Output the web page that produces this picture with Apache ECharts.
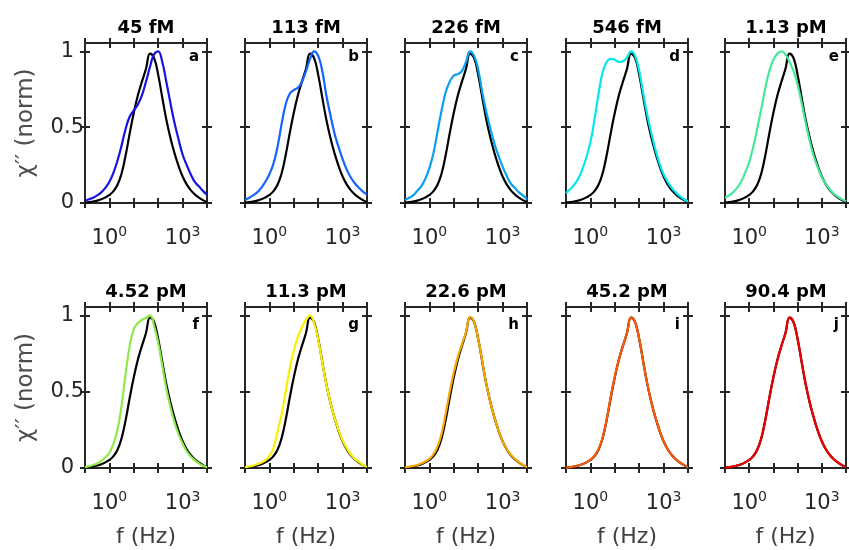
<!DOCTYPE html>
<html>
<head>
<meta charset="utf-8">
<script src="https://cdn.jsdelivr.net/npm/echarts@6.0.0/dist/echarts.min.js"></script>
<style>
  html, body { margin: 0; padding: 0; background: #fff; }
  #chart { width: 849px; height: 550px; }
</style>
</head>
<body>
<div id="chart"></div>
<script>
// frequency grid (Hz), 1/6 decade steps
const freq = [0.1, 0.147, 0.215, 0.316, 0.464, 0.681, 1, 1.47, 2.15, 3.16, 4.64, 6.81,
  10, 14.7, 21.5, 31.6, 46.4, 68.1, 100, 147, 215, 316, 464, 681,
  1000, 1470, 2150, 3160, 4640, 6810, 10000];

// reference curve (black), same in every panel
const refCurve = [0.003, 0.006, 0.01, 0.016, 0.025, 0.037, 0.053, 0.078, 0.12, 0.195, 0.315, 0.46,
  0.595, 0.71, 0.8, 0.885, 0.985, 0.955, 0.845, 0.695, 0.55, 0.43, 0.33, 0.245,
  0.175, 0.123, 0.085, 0.057, 0.036, 0.019, 0.005];

const curveA = [0.015, 0.025, 0.035, 0.05, 0.07, 0.1, 0.14, 0.2, 0.28, 0.38, 0.49, 0.57,
  0.61, 0.65, 0.71, 0.8, 0.9, 0.98, 1.0, 0.93, 0.8, 0.66, 0.53, 0.42,
  0.32, 0.25, 0.19, 0.14, 0.11, 0.08, 0.055];
const curveB = [0.02, 0.035, 0.05, 0.07, 0.1, 0.14, 0.19, 0.26, 0.37, 0.52, 0.65, 0.72,
  0.745, 0.76, 0.8, 0.87, 0.95, 1.0, 0.97, 0.87, 0.71, 0.58, 0.46, 0.37,
  0.29, 0.22, 0.17, 0.13, 0.1, 0.075, 0.055];
const curveC = [0.02, 0.035, 0.05, 0.08, 0.11, 0.16, 0.23, 0.33, 0.47, 0.61, 0.73, 0.8,
  0.84, 0.85, 0.87, 0.93, 1.0, 0.97, 0.88, 0.73, 0.6, 0.49, 0.39, 0.31,
  0.24, 0.18, 0.13, 0.1, 0.07, 0.05, 0.025];
const curveD = [0.065, 0.09, 0.12, 0.16, 0.22, 0.3, 0.4, 0.55, 0.72, 0.86, 0.93, 0.95,
  0.945, 0.93, 0.935, 0.96, 1.0, 0.97, 0.87, 0.72, 0.58, 0.46, 0.35, 0.26,
  0.19, 0.14, 0.1, 0.07, 0.045, 0.025, 0.01];
const curveE = [0.035, 0.05, 0.07, 0.1, 0.14, 0.2, 0.27, 0.37, 0.49, 0.62, 0.76, 0.87,
  0.945, 0.985, 1.0, 0.98, 0.93, 0.87, 0.78, 0.66, 0.53, 0.41, 0.31, 0.235,
  0.17, 0.125, 0.09, 0.06, 0.04, 0.025, 0.012];
const curveF = [0.005, 0.012, 0.02, 0.03, 0.045, 0.07, 0.1, 0.16, 0.25, 0.41, 0.62, 0.8,
  0.91, 0.95, 0.97, 0.985, 1.0, 0.93, 0.82, 0.67, 0.52, 0.4, 0.3, 0.22,
  0.16, 0.11, 0.075, 0.05, 0.03, 0.015, 0.005];
const curveG = [0.005, 0.01, 0.015, 0.025, 0.035, 0.05, 0.08, 0.13, 0.24, 0.35, 0.5, 0.65,
  0.77, 0.86, 0.92, 0.97, 1.0, 0.95, 0.84, 0.69, 0.55, 0.43, 0.33, 0.25,
  0.18, 0.13, 0.09, 0.06, 0.04, 0.02, 0.008];
const curveH = [0.004, 0.008, 0.013, 0.02, 0.03, 0.043, 0.06, 0.09, 0.14, 0.225, 0.355, 0.5,
  0.625, 0.73, 0.81, 0.89, 0.99, 0.955, 0.845, 0.7, 0.55, 0.43, 0.33, 0.245,
  0.175, 0.125, 0.088, 0.06, 0.037, 0.02, 0.006];
const curveI = [0.003, 0.006, 0.01, 0.016, 0.025, 0.037, 0.054, 0.08, 0.122, 0.198, 0.318, 0.465,
  0.6, 0.71, 0.8, 0.885, 0.985, 0.955, 0.845, 0.695, 0.55, 0.43, 0.33, 0.245,
  0.175, 0.123, 0.085, 0.057, 0.036, 0.019, 0.005];
const curveJ = [0.003, 0.006, 0.01, 0.016, 0.025, 0.037, 0.053, 0.078, 0.12, 0.195, 0.315, 0.46,
  0.595, 0.71, 0.8, 0.885, 0.985, 0.955, 0.845, 0.695, 0.55, 0.43, 0.33, 0.245,
  0.175, 0.123, 0.085, 0.057, 0.036, 0.019, 0.005];

const curves = [curveA, curveB, curveC, curveD, curveE, curveF, curveG, curveH, curveI, curveJ];
const titles = ['45 fM', '113 fM', '226 fM', '546 fM', '1.13 pM',
  '4.52 pM', '11.3 pM', '22.6 pM', '45.2 pM', '90.4 pM'];
const letters = ['a', 'b', 'c', 'd', 'e', 'f', 'g', 'h', 'i', 'j'];
const colors = ['#1414e6', '#1464ff', '#0aa0f0', '#00e8f0', '#46e89c',
  '#8eea4a', '#f8f000', '#f8a800', '#fa5a0a', '#f00000'];
const yTicks = [0, 0.5, 1];

// layout (pixels)
const colLeft = [85, 245, 405, 566, 725];
const rowTop = [43, 307];
const plotW = 122;
const plotH = [160, 161];

const axisColor = '#262626';
const font = 'DejaVu Sans';

let chartDom = document.getElementById('chart');
let myChart = echarts.init(chartDom);

const grid = [], xAxis = [], yAxis = [], series = [], graphic = [];

function xAx(g, pos, inside, withLabel, withName) {
  return {
    type: 'log', logBase: 10, min: 0.1, max: 10000, gridIndex: g, position: pos,
    splitLine: { show: false },
    axisLine: { show: true, onZero: false, lineStyle: { color: axisColor, width: 2 } },
    axisTick: { show: true, inside: inside, length: 5, lineStyle: { color: axisColor, width: 2 } },
    axisLabel: {
      show: withLabel, margin: 22,
      formatter: function (v) {
        const e = Math.round(Math.log10(v));
        return (e === 0 || e === 3) ? '{b|10}{s|' + e + '}' : '';
      },
      rich: {
        b: { fontSize: 21, fontFamily: font, color: axisColor, verticalAlign: 'bottom' },
        s: { fontSize: 14, fontFamily: font, color: axisColor, verticalAlign: 'bottom', padding: [0, 0, 10, 0] }
      }
    },
    name: withName ? 'f (Hz)' : '',
    nameLocation: 'middle', nameGap: 58,
    nameTextStyle: { fontSize: 22, fontFamily: font, color: '#404040' }
  };
}

function yAx(g, pos, inside, withLabel) {
  return {
    type: 'value', min: 0, max: 1.055, gridIndex: g, position: pos,
    splitLine: { show: false },
    axisLine: { show: true, onZero: false, lineStyle: { color: axisColor, width: 2 } },
    axisTick: { show: true, inside: inside, length: 5, customValues: yTicks,
      lineStyle: { color: axisColor, width: 2 } },
    axisLabel: {
      show: withLabel, margin: 1, customValues: yTicks,
      fontSize: 21, fontFamily: font, color: axisColor,
      formatter: function (v) { return v === 0.5 ? '0.5' : '{p|' + v + '}'; },
      rich: { p: { fontSize: 21, fontFamily: font, color: axisColor, padding: [0, 10, 0, 0] } }
    },
    name: withLabel ? '\u03c7\u2032\u2032 (norm)' : '',
    nameLocation: 'middle', nameGap: 47, nameRotate: 90,
    nameTextStyle: { fontSize: 23, fontFamily: font, color: '#4d4d4d' }
  };
}

for (let i = 0; i < 10; i++) {
  const r = Math.floor(i / 5), c = i % 5;
  const left = colLeft[c], top = rowTop[r], h = plotH[r];
  grid.push({ left: left, top: top, width: plotW, height: h, containLabel: false });

  const xi = xAxis.length, yi = yAxis.length;
  xAxis.push(xAx(i, 'bottom', false, true, r === 1));
  xAxis.push(xAx(i, 'bottom', true, false, false));
  xAxis.push(xAx(i, 'top', false, false, false));
  xAxis.push(xAx(i, 'top', true, false, false));
  yAxis.push(yAx(i, 'left', false, c === 0));
  yAxis.push(yAx(i, 'left', true, false));
  yAxis.push(yAx(i, 'right', false, false));
  yAxis.push(yAx(i, 'right', true, false));

  series.push({
    type: 'line', xAxisIndex: xi, yAxisIndex: yi, showSymbol: false, smooth: 0.45,
    lineStyle: { color: '#000', width: 2.2 }, itemStyle: { color: '#000' },
    data: freq.map((f, k) => [f, refCurve[k]])
  });
  series.push({
    type: 'line', xAxisIndex: xi, yAxisIndex: yi, showSymbol: false, smooth: 0.45,
    lineStyle: { color: colors[i], width: 2.2 }, itemStyle: { color: colors[i] },
    data: freq.map((f, k) => [f, curves[i][k]])
  });

  graphic.push({
    type: 'text', x: left + plotW / 2, y: top - 15,
    style: { text: titles[i], font: 'bold 18px "DejaVu Sans"', fill: '#000',
      align: 'center', verticalAlign: 'middle', textAlign: 'center', textVerticalAlign: 'middle' }
  });
  graphic.push({
    type: 'text', x: left + plotW - 8, y: top + (r === 0 ? 14 : 18),
    style: { text: letters[i], font: 'bold 15px "DejaVu Sans"', fill: '#000',
      align: 'right', verticalAlign: 'middle', textAlign: 'right', textVerticalAlign: 'middle' }
  });
}

let option = {
  animation: false,
  backgroundColor: '#fff',
  grid: grid,
  xAxis: xAxis,
  yAxis: yAxis,
  series: series,
  graphic: graphic
};

option && myChart.setOption(option);
</script>
</body>
</html>
